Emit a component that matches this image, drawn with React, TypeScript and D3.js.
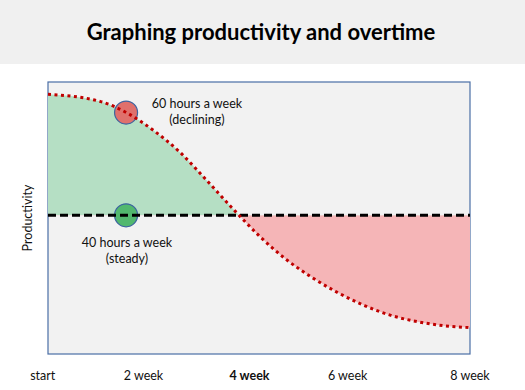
import React from "react";
import * as d3 from "d3";

// weeks and productivity (0-100)
const weeks = [0, 1, 1.5, 2, 2.5, 3, 3.5, 4, 4.5, 5, 5.5, 6, 6.5, 7, 7.5, 8];
const overtime = [95.5, 92.8, 88.6, 82.2, 74.2, 64, 53.5, 43.5, 35, 28.2, 22.5, 17.8, 14.2, 11.9, 10.4, 9.7];
const steady = 51;
const markerWeek = 1.48;
const tickWeeks = [-0.1, 1.81, 3.82, 5.68, 8];
const tickLabels = ["start", "2 week", "4 week", "6 week", "8 week"];
const boldTick = "4 week";

const W = 525;
const H = 390;
const font = "Lato, 'Open Sans', sans-serif";

export default function App() {
  const left = 48, right = 470, top = 82, bottom = 354;
  const x = d3.scaleLinear().domain([0, 8]).range([left, right]);
  const y = d3.scaleLinear().domain([0, 100]).range([bottom, top]);

  const pts = weeks.map((w, i) => ({ w, v: overtime[i] }));
  const line = d3.line<{ w: number; v: number }>()
    .x(d => x(d.w)).y(d => y(d.v)).curve(d3.curveMonotoneX);
  const area = d3.area<{ w: number; v: number }>()
    .x(d => x(d.w)).y0(y(steady)).y1(d => y(d.v)).curve(d3.curveMonotoneX);

  const interp = d3.scaleLinear().domain(weeks).range(overtime);
  const ys = y(steady);

  return (
    <div style={{ position: "absolute", left: 0, top: 0 }}>
      <svg width={W} height={H} style={{ display: "block" }}>
        <defs>
          <clipPath id="above"><rect x={left} y={top} width={right - left} height={ys - top} /></clipPath>
          <clipPath id="below"><rect x={left} y={ys} width={right - left} height={bottom - ys} /></clipPath>
        </defs>
        <rect x={0} y={0} width={W} height={H} fill="#ffffff" />
        <rect x={0} y={0} width={W} height={64} fill="#f0f0f0" />
        <text x={261} y={40} textAnchor="middle" fontFamily={font} fontWeight="bold" fontSize={22} fill="#000">
          Graphing productivity and overtime
        </text>

        <rect x={left} y={top} width={right - left} height={bottom - top} fill="#f2f2f2" stroke="#4a6ea6" strokeWidth={1.2} />
        <path d={area(pts) || ""} fill="#b5dfc4" clipPath="url(#above)" />
        <path d={area(pts) || ""} fill="#f5b5b7" clipPath="url(#below)" />

        <circle cx={x(markerWeek)} cy={y(interp(markerWeek))} r={11.5} fill="#e0706c" stroke="#3d64a0" strokeWidth={1.2} />
        <circle cx={x(markerWeek)} cy={ys} r={11.5} fill="#52b86e" stroke="#3d64a0" strokeWidth={1.2} />

        <line x1={left} x2={right} y1={ys} y2={ys} stroke="#000" strokeWidth={3} strokeDasharray="8 4" />
        <path d={line(pts) || ""} fill="none" stroke="#c00000" strokeWidth={3} strokeDasharray="3 3.5" />

        <g fontFamily={font} fontSize={12.5} fill="#111" textAnchor="middle">
          <text x={197} y={108}>60 hours a week</text>
          <text x={197} y={124}>(declining)</text>
          <text x={127} y={247}>40 hours a week</text>
          <text x={127} y={263}>(steady)</text>
          <text transform={`translate(32,${(top + bottom) / 2}) rotate(-90)`}>Productivity</text>
          {tickLabels.map((t, i) => (
            <text key={t} x={x(tickWeeks[i])} y={380} fontWeight={t === boldTick ? "bold" : "normal"}>{t}</text>
          ))}
        </g>
      </svg>
    </div>
  );
}
